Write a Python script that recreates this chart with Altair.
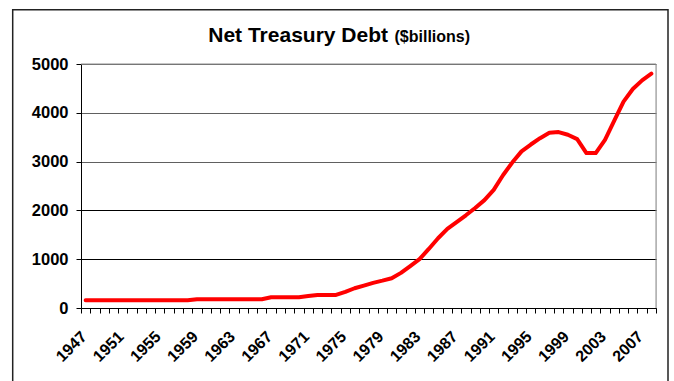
import altair as alt
import pandas as pd

# ---- data ----
years = list(range(1947, 2009))
debt = [
    158, 158, 158, 158, 158, 158, 158, 158, 158, 158, 158, 158,   # 1947-1958
    178, 178, 178, 178, 178, 178, 178, 178,                       # 1959-1966
    220, 220, 220, 220,                                           # 1967-1970
    245, 266, 268, 268,                                           # 1971-1974
    330, 405, 460, 515, 560, 610, 720, 860, 1000, 1210,           # 1975-1984
    1430, 1620, 1760, 1900, 2050, 2210, 2420, 2720, 2980, 3210,   # 1985-1994
    3350, 3480, 3590, 3605, 3550, 3460, 3174, 3174, 3447, 3840,   # 1995-2004
    4230, 4487, 4665, 4801,                                       # 2005-2008
]
y_ticks = [0, 1000, 2000, 3000, 4000, 5000]
label_every = 4
title_main = "Net Treasury Debt"
title_sub = "($billions)"

FONT = "Liberation Sans"
W, H = 575, 244

df = pd.DataFrame({"year": years, "debt": debt})
boundaries = [y - 0.5 for y in years] + [years[-1] + 0.5]
one = pd.DataFrame({"k": [0]})

x_scale = alt.Scale(domain=[years[0] - 0.5, years[-1] + 0.5], nice=False, zero=False)
y_scale = alt.Scale(domain=[y_ticks[0], y_ticks[-1]], nice=False)

label_expr = (
    f"((datum.value + 0.5 - {years[0]}) % {label_every} === 0) "
    f"? format(datum.value + 0.5, 'd') : ''"
)

line = alt.Chart(df).mark_line(
    color="#FF0000", strokeWidth=4, strokeCap="round", strokeJoin="round"
).encode(
    x=alt.X("year:Q", scale=x_scale, title=None,
            axis=alt.Axis(values=boundaries, labelExpr=label_expr,
                          labelOffset=-3, labelAngle=-45,
                          labelAlign="right", labelBaseline="top",
                          labelPadding=15, labelFlush=False,
                          labelOverlap=False, labelBound=False,
                          tickSize=5, tickColor="black", domainColor="black",
                          grid=False, labelFont=FONT, labelFontSize=16,
                          labelFontWeight="bold", labelColor="black")),
    y=alt.Y("debt:Q", scale=y_scale, title=None,
            axis=alt.Axis(values=y_ticks, format="d", tickSize=5, tickColor="black",
                          domainColor="black", labelPadding=8,
                          labelFont=FONT, labelFontSize=16.5,
                          labelFontWeight="bold", labelColor="black",
                          gridColor={"condition": {"test": "datum.value >= 3000",
                                                   "value": "#606060"},
                                     "value": "black"},
                          gridWidth=1)),
)

frame_top = alt.Chart(one).mark_rule(color="#8c8c8c", strokeWidth=1).encode(
    x=alt.value(0), x2=alt.value(W), y=alt.value(0))
frame_right = alt.Chart(one).mark_rule(color="#8c8c8c", strokeWidth=1).encode(
    x=alt.value(W), y=alt.value(0), y2=alt.value(H))

border = alt.Chart(one).mark_rect(fill=None, stroke="#222222", strokeWidth=1.5).encode(
    x=alt.value(-68.3), x2=alt.value(587), y=alt.value(-54.3), y2=alt.value(330))

t_main = alt.Chart(one).mark_text(
    text=title_main, font=FONT, fontSize=21, fontWeight="bold",
    align="right", baseline="alphabetic", color="black"
).encode(x=alt.value(307), y=alt.value(-21.6))
t_sub = alt.Chart(one).mark_text(
    text=title_sub, font=FONT, fontSize=16, fontWeight="bold",
    align="left", baseline="alphabetic", color="black"
).encode(x=alt.value(313.5), y=alt.value(-21.6))

chart = alt.layer(border, frame_top, frame_right, line, t_main, t_sub).properties(
    width=W, height=H,
    autosize=alt.AutoSizeParams(type="none"),
    padding={"left": 81, "top": 64, "right": 18, "bottom": 73},
).configure_view(stroke=None).configure(background="white")

chart.save("out.html", embed_options={"renderer": "svg", "actions": False})
